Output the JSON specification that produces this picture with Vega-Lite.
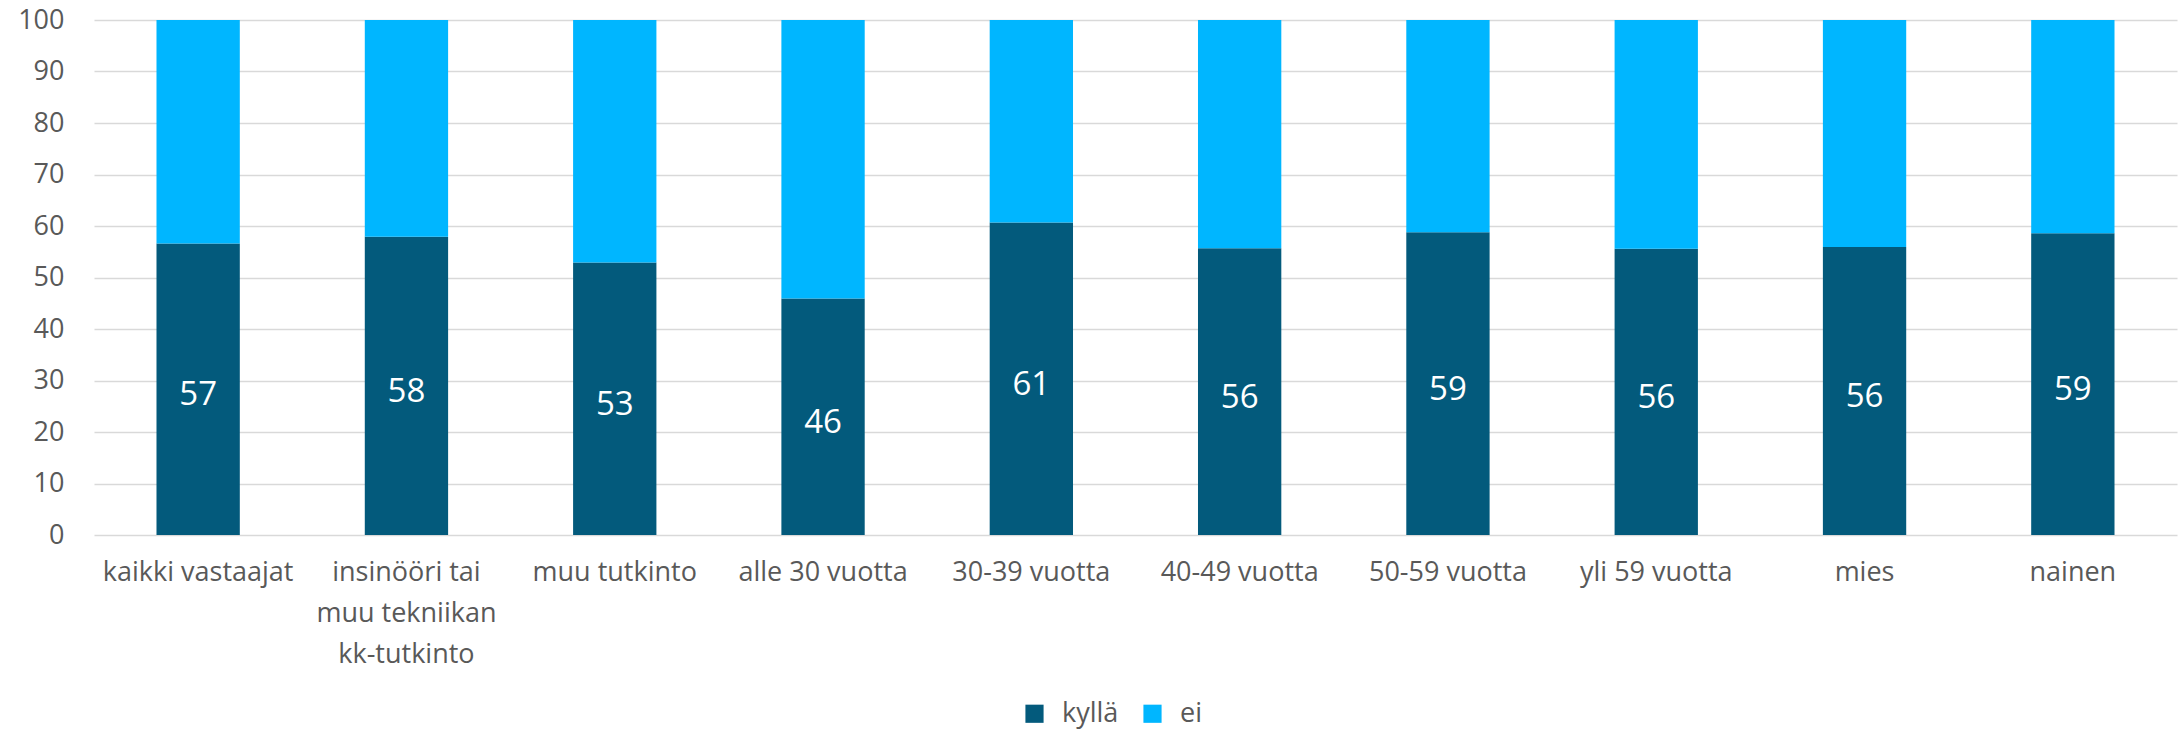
{
  "$schema": "https://vega.github.io/schema/vega-lite/v6.json",
  "width": 2083,
  "height": 515,
  "autosize": {"type": "none"},
  "padding": {"left": 94, "top": 20, "right": 1, "bottom": 197},
  "background": "white",
  "config": {
    "font": "Open Sans",
    "view": {"stroke": null}
  },
  "data": {
    "values": [
      {"ryhma": "kaikki vastaajat", "sarja": "kyllä", "arvo": 56.6, "jarj": 1},
      {"ryhma": "kaikki vastaajat", "sarja": "ei", "arvo": 43.4, "jarj": 2},
      {"ryhma": "insinööri tai muu tekniikan kk-tutkinto", "sarja": "kyllä", "arvo": 57.9, "jarj": 1},
      {"ryhma": "insinööri tai muu tekniikan kk-tutkinto", "sarja": "ei", "arvo": 42.1, "jarj": 2},
      {"ryhma": "muu tutkinto", "sarja": "kyllä", "arvo": 52.9, "jarj": 1},
      {"ryhma": "muu tutkinto", "sarja": "ei", "arvo": 47.1, "jarj": 2},
      {"ryhma": "alle 30 vuotta", "sarja": "kyllä", "arvo": 45.9, "jarj": 1},
      {"ryhma": "alle 30 vuotta", "sarja": "ei", "arvo": 54.1, "jarj": 2},
      {"ryhma": "30-39 vuotta", "sarja": "kyllä", "arvo": 60.7, "jarj": 1},
      {"ryhma": "30-39 vuotta", "sarja": "ei", "arvo": 39.3, "jarj": 2},
      {"ryhma": "40-49 vuotta", "sarja": "kyllä", "arvo": 55.7, "jarj": 1},
      {"ryhma": "40-49 vuotta", "sarja": "ei", "arvo": 44.3, "jarj": 2},
      {"ryhma": "50-59 vuotta", "sarja": "kyllä", "arvo": 58.8, "jarj": 1},
      {"ryhma": "50-59 vuotta", "sarja": "ei", "arvo": 41.2, "jarj": 2},
      {"ryhma": "yli 59 vuotta", "sarja": "kyllä", "arvo": 55.6, "jarj": 1},
      {"ryhma": "yli 59 vuotta", "sarja": "ei", "arvo": 44.4, "jarj": 2},
      {"ryhma": "mies", "sarja": "kyllä", "arvo": 55.9, "jarj": 1},
      {"ryhma": "mies", "sarja": "ei", "arvo": 44.1, "jarj": 2},
      {"ryhma": "nainen", "sarja": "kyllä", "arvo": 58.6, "jarj": 1},
      {"ryhma": "nainen", "sarja": "ei", "arvo": 41.4, "jarj": 2}
    ]
  },
  "encoding": {
    "x": {
      "field": "ryhma",
      "type": "nominal",
      "sort": null,
      "scale": {"paddingInner": 0.6, "paddingOuter": 0.3},
      "axis": {
        "title": null,
        "labelAngle": 0,
        "domain": false,
        "ticks": false,
        "labelFontSize": 27,
        "labelColor": "#595959",
        "labelPadding": 24,
        "labelLineHeight": 41,
        "labelLimit": 400,
        "labelExpr": "datum.label == 'insinööri tai muu tekniikan kk-tutkinto' ? ['insinööri tai', 'muu tekniikan', 'kk-tutkinto'] : datum.label"
      }
    }
  },
  "layer": [
    {
      "mark": {"type": "bar"},
      "encoding": {
        "y": {
          "field": "arvo",
          "type": "quantitative",
          "stack": "zero",
          "scale": {"domain": [0, 100], "nice": false},
          "axis": {
            "title": null,
            "values": [0, 10, 20, 30, 40, 50, 60, 70, 80, 90, 100],
            "domain": false,
            "ticks": false,
            "grid": true,
            "gridColor": "#d9d9d9",
            "gridWidth": 1.3,
            "labelFontSize": 27,
            "labelColor": "#595959",
            "labelPadding": 30
          }
        },
        "color": {
          "field": "sarja",
          "type": "nominal",
          "scale": {"domain": ["kyllä", "ei"], "range": ["#035a7c", "#00b6ff"]},
          "legend": {
            "title": null,
            "orient": "none",
            "direction": "horizontal",
            "legendX": 927,
            "legendY": 680,
            "padding": 0,
            "symbolType": "square",
            "symbolSize": 330,
            "symbolStrokeWidth": 0,
            "labelFontSize": 27,
            "labelColor": "#595959",
            "columnPadding": 20,
            "labelOffset": 14
          }
        },
        "order": {"field": "jarj", "type": "quantitative"}
      }
    },
    {
      "transform": [
        {"filter": "datum.sarja == 'kyllä'"},
        {"calculate": "datum.arvo / 2", "as": "keski"}
      ],
      "mark": {"type": "text", "color": "white", "fontSize": 33, "baseline": "middle", "align": "center", "dy": 6},
      "encoding": {
        "y": {"field": "keski", "type": "quantitative"},
        "text": {"field": "arvo", "type": "quantitative", "format": ".0f"}
      }
    }
  ]
}
